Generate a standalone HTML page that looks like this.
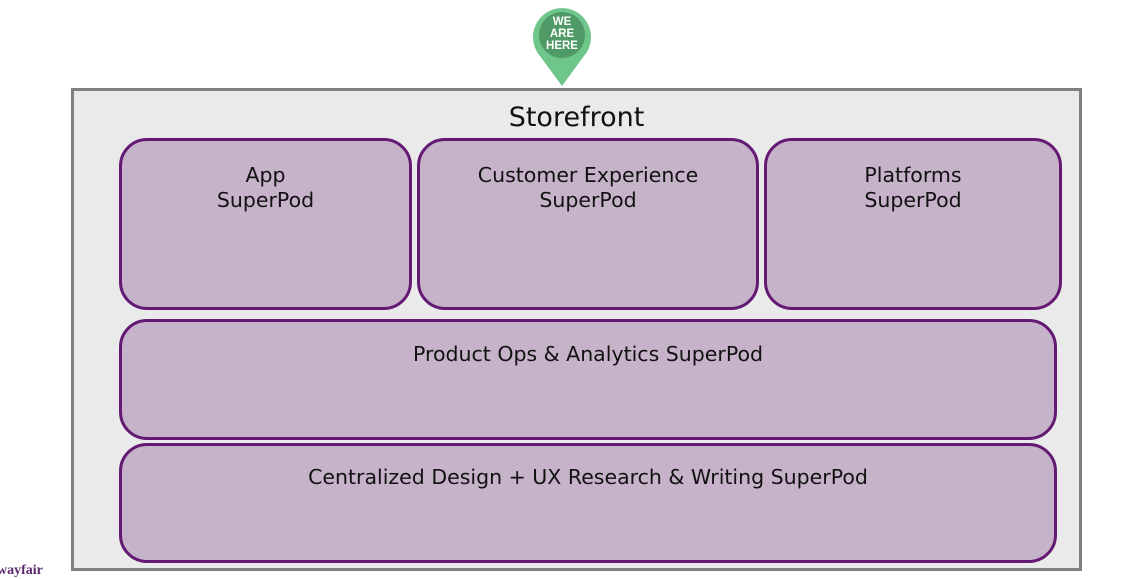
<!DOCTYPE html>
<html><head><style>
body{margin:0;width:1146px;height:579px;background:#fff;position:relative;overflow:hidden;font-family:"DejaVu Sans","Liberation Sans",sans-serif;}
.o{position:absolute;left:71px;top:88px;width:1005px;height:477px;border:3px solid #808080;background:#eaeaea;}
.b{position:absolute;box-sizing:border-box;border:3px solid #641a73;background:#c6b2c9;border-radius:28px;text-align:center;font-size:20.5px;color:#111;line-height:25px;padding-top:22px;}
.t{position:absolute;left:71px;width:1011px;top:102px;text-align:center;font-size:27px;color:#111;}
</style></head><body>
<div class="o"></div>
<div class="t">Storefront</div>
<div class="b" style="left:119px;top:138px;width:293px;height:172px;">App<br>SuperPod</div>
<div class="b" style="left:417px;top:138px;width:342px;height:172px;">Customer Experience<br>SuperPod</div>
<div class="b" style="left:764px;top:138px;width:298px;height:172px;">Platforms<br>SuperPod</div>
<div class="b" style="left:119px;top:319px;width:938px;height:121px;padding-top:20px;">Product Ops &amp; Analytics SuperPod</div>
<div class="b" style="left:119px;top:443px;width:938px;height:120px;padding-top:19px;">Centralized Design + UX Research &amp; Writing SuperPod</div>
<svg style="position:absolute;left:530px;top:4px" width="64" height="84">
<path d="M32 82 L10 52 A29 29 0 1 1 54 52 Z" fill="#6fc68a"/>
<circle cx="32" cy="31" r="23" fill="#4f9a67"/>
<text x="32" y="21" font-size="11.5" font-weight="bold" fill="#fff" text-anchor="middle" font-family="Liberation Sans">WE</text>
<text x="32" y="33" font-size="11.5" font-weight="bold" fill="#fff" text-anchor="middle" font-family="Liberation Sans">ARE</text>
<text x="32" y="45" font-size="11.5" font-weight="bold" fill="#fff" text-anchor="middle" font-family="Liberation Sans">HERE</text>
</svg>
<div style="position:absolute;left:-3px;top:563px;font-size:14px;font-weight:bold;color:#5a2a6e;font-family:'Liberation Serif',serif;">wayfair</div>
</body></html>
